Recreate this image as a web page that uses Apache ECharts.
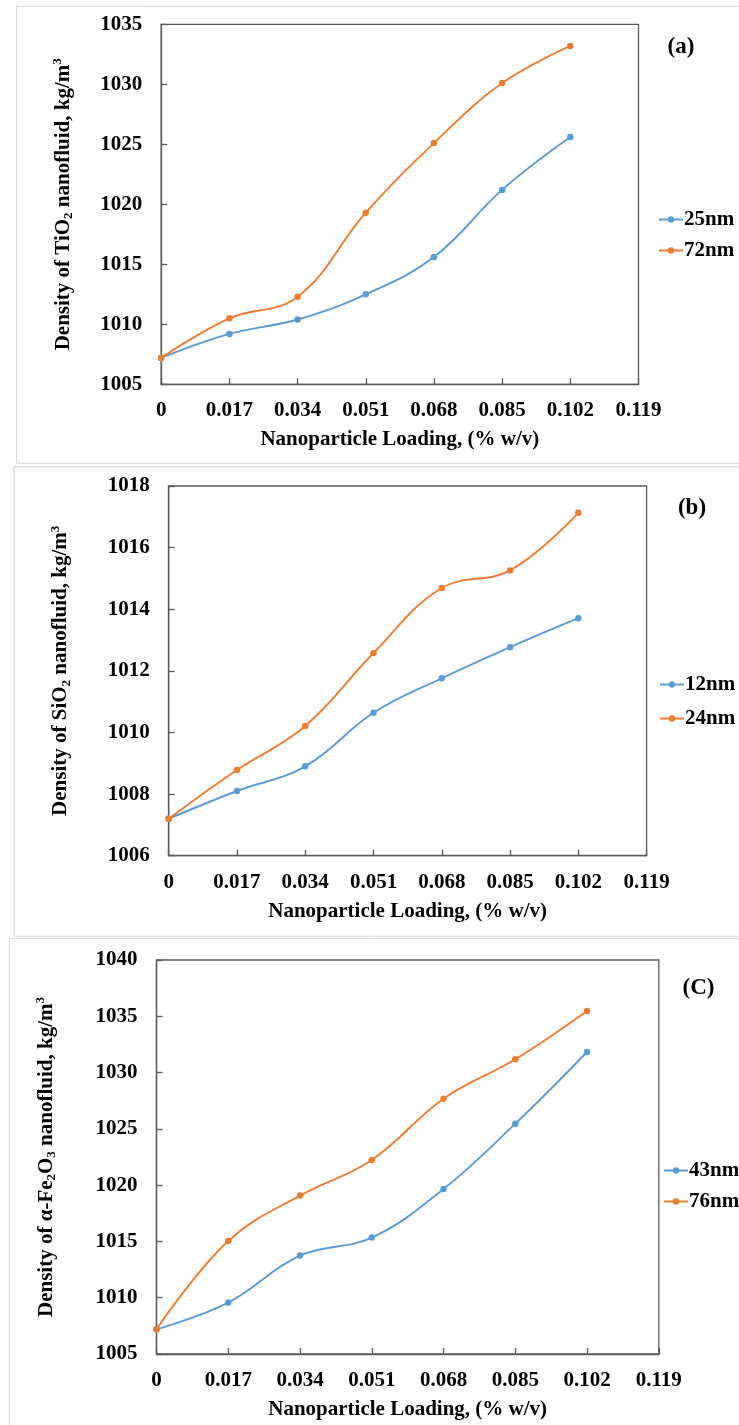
<!DOCTYPE html>
<html>
<head>
<meta charset="utf-8">
<script src="https://cdn.jsdelivr.net/npm/echarts@6/dist/echarts.min.js"></script>
<style>
html,body{margin:0;padding:0;background:#fff;}
#c{width:739px;height:1425px;}
</style>
</head>
<body>
<div id="c"></div>
<script>
// ---- data ----
const loading = [0, 0.017, 0.034, 0.051, 0.068, 0.085, 0.102];
const xTicks = [0, 0.017, 0.034, 0.051, 0.068, 0.085, 0.102, 0.119];

const tio2Names = ['25nm', '72nm'];
const tio2_25nm = [1007.2, 1009.2, 1010.4, 1012.5, 1015.6, 1021.2, 1025.6];
const tio2_72nm = [1007.2, 1010.5, 1012.3, 1019.3, 1025.1, 1030.1, 1033.2];
const tio2YTicks = [1005, 1010, 1015, 1020, 1025, 1030, 1035];

const sio2Names = ['12nm', '24nm'];
const sio2_12nm = [1007.2, 1008.1, 1008.9, 1010.64, 1011.76, 1012.77, 1013.71];
const sio2_24nm = [1007.2, 1008.78, 1010.21, 1012.58, 1014.69, 1015.26, 1017.13];
const sio2YTicks = [1006, 1008, 1010, 1012, 1014, 1016, 1018];

const feNames = ['43nm', '76nm'];
const fe_43nm = [1007.2, 1009.57, 1013.74, 1015.34, 1019.66, 1025.46, 1031.83];
const fe_76nm = [1007.2, 1015.04, 1019.07, 1022.24, 1027.68, 1031.18, 1035.47];
const feYTicks = [1005, 1010, 1015, 1020, 1025, 1030, 1035, 1040];

const panelLabels = ['(a)', '(b)', '(C)'];
const xTitle = 'Nanoparticle Loading, (% w/v)';
const yTitles = [
  'Density of TiO{sub|2} nanofluid, kg/m{sup|3}',
  'Density of SiO{sub|2} nanofluid, kg/m{sup|3}',
  'Density of \u03b1-Fe{sub|2}O{sub|3} nanofluid, kg/m{sup|3}'
];

// ---- styling ----
const FONT = 'Liberation Serif';
const BLUE = '#5B9BD5';
const ORANGE = '#ED7D31';
const AXIS = '#595959';

const grids = [
  {left: 161.2, top: 24.3, width: 477.3, height: 360},
  {left: 168.7, top: 486, width: 477.9, height: 369.7},
  {left: 156.5, top: 960, width: 502.3, height: 394}
];
const yNameGaps = [86, 96, 98];
const yTickSets = [tio2YTicks, sio2YTicks, feYTicks];

const richName = {
  sub: {fontSize: 13, fontWeight: 'bold', fontFamily: FONT, color: '#000', verticalAlign: 'bottom', lineHeight: 13},
  sup: {fontSize: 13, fontWeight: 'bold', fontFamily: FONT, color: '#000', verticalAlign: 'top', lineHeight: 13}
};

function pair(a, b) { return a.map((v, i) => [b[i], v]); }

const xAxis = grids.map((g, i) => ({
  type: 'value', gridIndex: i,
  min: xTicks[0], max: xTicks[xTicks.length - 1], interval: xTicks[1] - xTicks[0],
  name: xTitle, nameLocation: 'middle', nameGap: 45,
  nameTextStyle: {fontFamily: FONT, fontWeight: 'bold', fontSize: 21, color: '#000'},
  axisLine: {show: true, onZero: false, lineStyle: {color: AXIS, width: 1.3}},
  axisTick: {show: true, inside: true, length: 6, lineStyle: {color: AXIS, width: 1.3}},
  axisLabel: {fontFamily: FONT, fontWeight: 'bold', fontSize: 21, color: '#000', margin: 16,
    showMaxLabel: true, showMinLabel: true, hideOverlap: false,
    formatter: v => { const r = Math.round(v * 1000) / 1000; return r === 0 ? '0' : r.toFixed(3); }},
  splitLine: {show: false}
}));

const yAxis = grids.map((g, i) => {
  const t = yTickSets[i];
  return {
    type: 'value', gridIndex: i,
    min: t[0], max: t[t.length - 1], interval: t[1] - t[0],
    name: yTitles[i], nameLocation: 'middle', nameGap: yNameGaps[i],
    nameTextStyle: {fontFamily: FONT, fontWeight: 'bold', fontSize: 21, color: '#000', lineHeight: 24, rich: richName},
    axisLine: {show: true, lineStyle: {color: AXIS, width: 1.3}},
    axisTick: {show: true, inside: true, length: 6, lineStyle: {color: AXIS, width: 1.3}},
    axisLabel: {fontFamily: FONT, fontWeight: 'bold', fontSize: 21, color: '#000', margin: 19,
      showMaxLabel: true, showMinLabel: true, formatter: v => String(Math.round(v))},
    splitLine: {show: false}
  };
});

function mkSeries(name, data, color, idx) {
  return {
    type: 'line', name: name, xAxisIndex: idx, yAxisIndex: idx,
    data: pair(data, loading), smooth: 0.4,
    symbol: 'circle', symbolSize: 6.5, showSymbol: true,
    lineStyle: {color: color, width: 1.9},
    itemStyle: {color: color},
    emphasis: {disabled: true}
  };
}

const series = [
  mkSeries(tio2Names[0], tio2_25nm, BLUE, 0),
  mkSeries(tio2Names[1], tio2_72nm, ORANGE, 0),
  mkSeries(sio2Names[0], sio2_12nm, BLUE, 1),
  mkSeries(sio2Names[1], sio2_24nm, ORANGE, 1),
  mkSeries(feNames[0], fe_43nm, BLUE, 2),
  mkSeries(feNames[1], fe_76nm, ORANGE, 2)
];

const legendBase = {
  orient: 'vertical', itemWidth: 24, itemHeight: 8,
  textStyle: {fontFamily: FONT, fontWeight: 'bold', fontSize: 21, color: '#000', padding: [0, 0, 0, -4]},
  selectedMode: false, padding: 0
};
const legend = [
  Object.assign({}, legendBase, {left: 658, top: 209, itemGap: 10, data: tio2Names.map(n => ({name: n}))}),
  Object.assign({}, legendBase, {left: 659, top: 674, itemGap: 13, data: sio2Names.map(n => ({name: n}))}),
  Object.assign({}, legendBase, {left: 663, top: 1160, itemGap: 10, data: feNames.map(n => ({name: n}))})
];

const panelRects = [
  {x: 16.5, y: 6.3, w: 740, h: 457},
  {x: 14, y: 466.7, w: 740, h: 469.5},
  {x: 9.4, y: 938.3, w: 740, h: 500}
];
const labelPos = [[681, 46.7], [692, 508], [698.5, 988]];

const graphic = [];
panelRects.forEach(r => graphic.push({
  type: 'rect', silent: true, z: -10,
  shape: {x: r.x, y: r.y, width: r.w, height: r.h},
  style: {fill: null, stroke: '#d9d9d9', lineWidth: 1}
}));
panelLabels.forEach((t, i) => graphic.push({
  type: 'text', silent: true,
  x: labelPos[i][0], y: labelPos[i][1],
  style: {text: t, fontFamily: FONT, fontWeight: 'bold', fontSize: 23, fill: '#000', align: 'center', verticalAlign: 'middle'}
}));

const chart = echarts.init(document.getElementById('c'), null, {renderer: 'canvas'});
chart.setOption({
  animation: false,
  backgroundColor: '#fff',
  grid: grids.map(g => Object.assign({show: true, borderColor: AXIS, borderWidth: 1.3, backgroundColor: 'transparent', containLabel: false}, g)),
  xAxis: xAxis,
  yAxis: yAxis,
  legend: legend,
  series: series,
  graphic: graphic
});
</script>
</body>
</html>
